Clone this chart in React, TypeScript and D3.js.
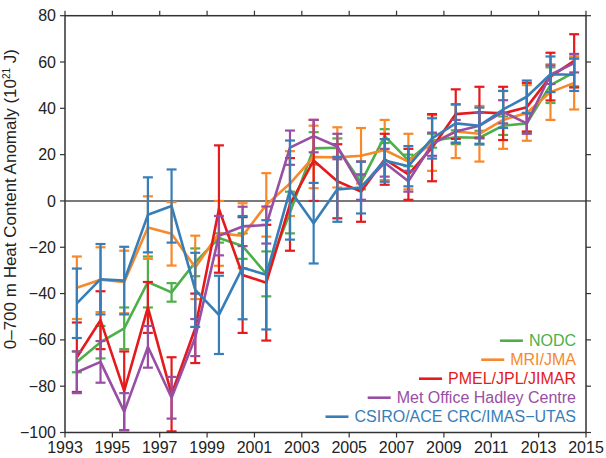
import React from "react";
import * as d3 from "d3";

const years = [1993.5, 1994.5, 1995.5, 1996.5, 1997.5, 1998.5, 1999.5, 2000.5, 2001.5, 2002.5, 2003.5,
  2004.5, 2005.5, 2006.5, 2007.5, 2008.5, 2009.5, 2010.5, 2011.5, 2012.5, 2013.5, 2014.5];

const nodcValues = [-69.5, -61, -55, -35, -39.5, -26.5, -16, -19.5, -31.5, -5, 22.7, 23, 8, 28, 17.5, 26, 27.5, 27.3, 32.5, 33.5, 50, 55.5];
const nodcErrors = [4.5, 7, 9, 11, 4, 6, 2, 5.5, 9.7, 9, 7, 4, 3, 3, 2.5, 3, 3, 3, 4, 4, 7.7, 6];

const mriValues = [-37.5, -34, -35, -11.5, -14.2, -28.7, -14, -15, -1.7, 7.5, 19, 18.8, 19.5, 22, 17, 25, 30, 29, 35, 38, 47, 51];
const mriErrors = [13.5, 14, 13.5, 13.5, 13.7, 13.7, 14, 14, 13.7, 14, 13.5, 13, 12, 13, 12, 12, 11.5, 12, 12.5, 12, 12, 11.5];

const pmelValues = [-67.5, -51.5, -82, -46, -83.5, -55, -3.5, -32, -35.3, -1.5, 17.5, 8.5, 4, 18, 11.5, 23, 37.5, 38.3, 37.8, 40.5, 53.7, 60.5];
const pmelErrors = [15, 12.5, 17, 11, 16, 15, 27.5, 25, 25, 20, 17.5, 16, 13, 11, 11, 14.5, 10.7, 11, 11.5, 10.5, 10.3, 11.5];

const hadleyValues = [-74, -69.5, -91, -63, -85, -59, -15, -11, -10.4, 23, 28, 23.5, 6, 16.5, 8.5, 24.5, 30, 32.5, 38.5, 33.5, 54.5, 59.5];
const hadleyErrors = [9, 9, 8, 9, 9, 8, 8.5, 8.5, 8, 7.4, 7, 5.5, 5.5, 6, 4.5, 5, 5, 5.5, 5, 4.5, 4, 4];

const csiroValues = [-44.2, -33.8, -34.4, -6, -2.2, -38.4, -49.2, -28.8, -31.9, 4.7, -9.6, 5, 5.8, 17.5, 15, 27, 33.5, 32.5, 39.5, 45, 54.7, 54.5];
const csiroErrors = [15, 15.2, 14.6, 16.2, 15.8, 16, 16.9, 22.3, 23.6, 21.4, 17.4, 14, 11.2, 9.2, 8.7, 8.7, 8.3, 7.8, 8, 7, 7.7, 7];

const seriesNames = ["NODC", "MRI/JMA", "PMEL/JPL/JIMAR", "Met Office Hadley Centre", "CSIRO/ACE CRC/IMAS\u2212UTAS"];
const seriesColors = ["#4daf4a", "#f7892a", "#e41a1c", "#984ea3", "#377eb8"];
const seriesValues = [nodcValues, mriValues, pmelValues, hadleyValues, csiroValues];
const seriesErrors = [nodcErrors, mriErrors, pmelErrors, hadleyErrors, csiroErrors];

const xTicks = [1993, 1995, 1997, 1999, 2001, 2003, 2005, 2007, 2009, 2011, 2013, 2015];
const yTicks = [-100, -80, -60, -40, -20, 0, 20, 40, 60, 80];

const W = 606;
const H = 458;
const left = 65;
const right = 586;
const top = 15.7;
const bottom = 432.5;
const FONT = "'Liberation Sans', Arial, Helvetica, sans-serif";
const FS = 16;

function measure(text: string, size: number): number {
  try {
    const c = document.createElement("canvas").getContext("2d");
    if (c) {
      c.font = `${size}px 'Liberation Sans', Arial, sans-serif`;
      return c.measureText(text).width;
    }
  } catch (e) {}
  return text.length * size * 0.55;
}

export default function App() {
  const x = d3.scaleLinear().domain([1993, 2015]).range([left, right]);
  const y = d3.scaleLinear().domain([-100, 80]).range([bottom, top]);
  const line = d3.line<number>().x((_, i) => x(years[i])).y((v) => y(v));
  const tick = 5;
  const axisColor = "#333";

  return (
    <svg width={W} height={H} style={{ position: "absolute", left: 0, top: 0, background: "#fff" }}
      fontFamily={FONT}>
      <line x1={left} x2={right} y1={y(0)} y2={y(0)} stroke="#7a7a7a" strokeWidth={2} />
      {seriesValues.map((vals, s) => (
        <g key={s}>
          {vals.map((v, i) => {
            const e = seriesErrors[s][i];
            const cx = x(years[i]);
            const y1 = y(Math.min(80, v + e));
            const y2 = y(Math.max(-100, v - e));
            return (
              <g key={i} stroke={seriesColors[s]} strokeWidth={2.2}>
                <line x1={cx} x2={cx} y1={y1} y2={y2} />
                {v + e <= 80 && <line x1={cx - 5} x2={cx + 5} y1={y1} y2={y1} />}
                {v - e >= -100 && <line x1={cx - 5} x2={cx + 5} y1={y2} y2={y2} />}
              </g>
            );
          })}
          <path d={line(vals) || ""} fill="none" stroke={seriesColors[s]} strokeWidth={2.6}
            strokeLinejoin="round" />
        </g>
      ))}
      <rect x={left} y={top} width={right - left} height={bottom - top} fill="none" stroke={axisColor} strokeWidth={1.5} />
      {xTicks.map((t) => (
        <g key={t}>
          <line x1={x(t)} x2={x(t)} y1={bottom} y2={bottom + tick} stroke={axisColor} strokeWidth={1.2} />
          <line x1={x(t)} x2={x(t)} y1={top} y2={top - tick} stroke={axisColor} strokeWidth={1.2} />
          <text x={x(t)} y={bottom + 20} textAnchor="middle" fontSize={FS} fill="#222">{t}</text>
        </g>
      ))}
      {yTicks.map((t) => (
        <g key={t}>
          <line x1={left - tick} x2={left} y1={y(t)} y2={y(t)} stroke={axisColor} strokeWidth={1.2} />
          <line x1={right} x2={right + tick} y1={y(t)} y2={y(t)} stroke={axisColor} strokeWidth={1.2} />
          <text x={left - 9} y={y(t)} dy="0.35em" textAnchor="end" fontSize={FS} fill="#222">
            {t < 0 ? "\u2212" + Math.abs(t) : t}
          </text>
        </g>
      ))}
      <text transform={`translate(16,${(top + bottom) / 2 - 25}) rotate(-90)`} textAnchor="middle"
        fontSize={17} fill="#222">
        0–700 m Heat Content Anomaly (10<tspan dy="-6" fontSize={10}>21</tspan><tspan dy="6"> J)</tspan>
      </text>
      {seriesNames.map((n, i) => {
        const ly = 340.7 + i * 19;
        const tx = 576;
        const w = measure(n, FS);
        const lx2 = tx - w - 6;
        return (
          <g key={n}>
            <line x1={lx2 - 23} x2={lx2} y1={ly} y2={ly} stroke={seriesColors[i]} strokeWidth={2.6} />
            <text x={tx} y={ly} dy="0.35em" textAnchor="end" fontSize={FS} fill={seriesColors[i]}>{n}</text>
          </g>
        );
      })}
    </svg>
  );
}
